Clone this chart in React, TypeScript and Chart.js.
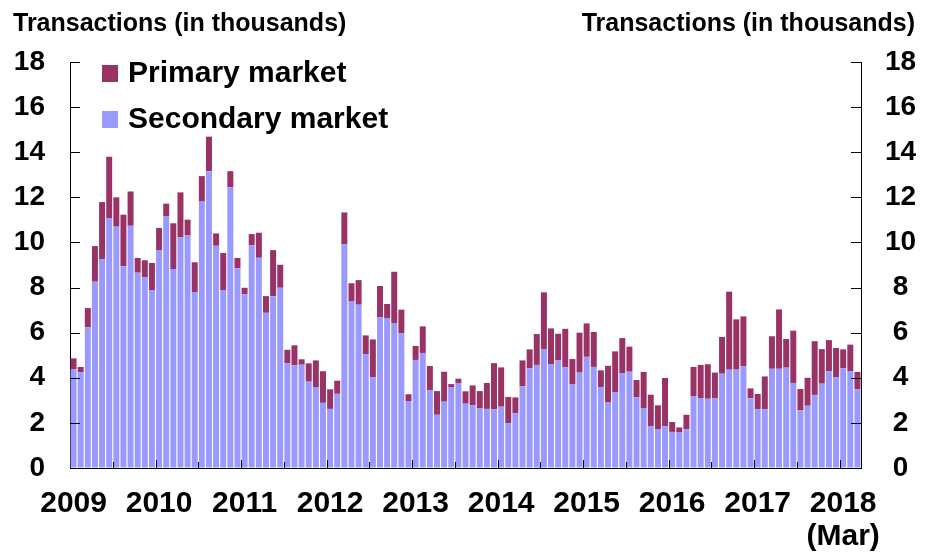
import React, { useEffect, useRef } from 'react';
import { Chart, registerables } from 'chart.js';

Chart.register(...registerables);

// Monthly categories Jan 2009 – Mar 2018
const years = ['2009', '2010', '2011', '2012', '2013', '2014', '2015', '2016', '2017', '2018'];
const monthNames = ['Jan', 'Feb', 'Mar', 'Apr', 'May', 'Jun', 'Jul', 'Aug', 'Sep', 'Oct', 'Nov', 'Dec'];
const lastYearMonths = 3;
const categories: string[] = [];
years.forEach((y, yi) => {
  const n = yi === years.length - 1 ? lastYearMonths : 12;
  for (let m = 0; m < n; m++) categories.push(`${monthNames[m]} ${y}`);
});
const lastNote = '(Mar)';

// Secondary market transactions (thousands)
const secondary = [
  4.37, 4.24, 6.24, 8.26, 9.25, 11.08, 10.70, 8.95, 10.74, 8.66, 8.45, 7.89,
  9.66, 11.17, 8.82, 10.24, 10.31, 7.80, 11.81, 13.16, 9.85, 7.89, 12.44, 8.85,
  7.70, 9.88, 9.32, 6.88, 7.62, 7.99, 4.65, 4.55, 4.58, 3.83, 3.59, 2.89,
  2.62, 3.29, 9.92, 7.40, 7.24, 5.05, 4.03, 6.68, 6.65, 6.43, 5.97, 2.97,
  4.79, 5.10, 3.44, 2.36, 2.94, 3.59, 3.77, 2.85, 2.79, 2.64, 2.62, 2.60,
  2.72, 1.99, 2.44, 3.63, 4.42, 4.57, 5.27, 4.61, 4.77, 4.46, 3.72, 4.23,
  4.93, 4.48, 3.59, 2.90, 3.35, 4.21, 4.27, 3.13, 2.66, 1.85, 1.73, 1.85,
  1.60, 1.57, 1.73, 3.19, 3.10, 3.07, 3.10, 4.18, 4.36, 4.36, 4.52, 3.09,
  2.60, 2.60, 4.40, 4.40, 4.45, 3.77, 2.56, 2.76, 3.24, 3.74, 4.29, 4.03,
  4.43, 4.30, 3.50,
];

// Primary market transactions (thousands)
const primary = [
  0.49, 0.24, 0.85, 1.58, 2.54, 2.72, 1.30, 2.28, 1.52, 0.65, 0.76, 1.20,
  0.98, 0.55, 2.03, 1.98, 0.70, 1.32, 1.13, 1.53, 0.55, 1.64, 0.72, 0.46,
  0.29, 0.49, 1.11, 0.74, 2.04, 1.02, 0.59, 0.89, 0.24, 0.81, 1.18, 1.40,
  0.87, 0.58, 1.41, 0.79, 1.09, 0.83, 1.67, 1.39, 0.62, 2.27, 1.05, 0.30,
  0.62, 1.18, 1.08, 1.05, 1.33, 0.13, 0.19, 0.55, 0.87, 0.77, 1.15, 2.05,
  1.74, 1.16, 0.69, 1.14, 0.84, 1.37, 2.52, 1.58, 1.18, 1.71, 1.11, 1.77,
  1.48, 1.55, 0.74, 1.63, 1.82, 1.55, 1.11, 0.77, 1.60, 1.40, 1.05, 2.14,
  0.44, 0.23, 0.63, 1.29, 1.47, 1.53, 1.13, 1.63, 3.46, 2.23, 2.20, 0.44,
  0.68, 1.46, 1.44, 2.63, 1.27, 2.32, 0.94, 1.24, 2.38, 1.53, 1.38, 1.29,
  0.83, 1.17, 0.76,
];

const yTicks = [0, 2, 4, 6, 8, 10, 12, 14, 16, 18];
const axisTitle = 'Transactions (in thousands)';
const seriesNames = { primary: 'Primary market', secondary: 'Secondary market' };
const COLORS = { primary: '#993366', secondary: '#9999FF' };
const FONT = "'Liberation Sans', Arial, Helvetica, sans-serif";

const overlayPlugin = {
  id: 'overlay',
  afterDatasetsDraw(chart: any) {
    const { ctx, chartArea: a, scales } = chart;
    const y = scales.y;
    const x = scales.x;
    ctx.save();
    ctx.strokeStyle = '#000';
    ctx.lineWidth = 1;
    ctx.beginPath();
    yTicks.forEach((v) => {
      const py = Math.round(y.getPixelForValue(v)) + 0.5;
      ctx.moveTo(a.left, py);
      ctx.lineTo(a.left + 10, py);
      ctx.moveTo(a.right - 10, py);
      ctx.lineTo(a.right, py);
    });
    for (let i = 6; i < categories.length; i += 6) {
      const px = Math.round((x.getPixelForValue(i - 1) + x.getPixelForValue(i)) / 2) + 0.5;
      const len = i % 12 === 0 ? 8 : 6;
      ctx.moveTo(px, a.bottom);
      ctx.lineTo(px, a.bottom - len);
    }
    ctx.stroke();
    ctx.restore();
  },
  afterDraw(chart: any) {
    const { ctx } = chart;
    ctx.save();
    ctx.fillStyle = '#000';
    ctx.font = `bold 25px ${FONT}`;
    ctx.textBaseline = 'alphabetic';
    ctx.textAlign = 'left';
    ctx.fillText(axisTitle, 13, 31);
    ctx.textAlign = 'right';
    ctx.fillText(axisTitle, 915, 31);

    // legend
    const items = [
      { label: seriesNames.primary, color: COLORS.primary, y: 65 },
      { label: seriesNames.secondary, color: COLORS.secondary, y: 111 },
    ];
    ctx.font = `bold 30px ${FONT}`;
    ctx.textAlign = 'left';
    items.forEach((it) => {
      ctx.fillStyle = it.color;
      ctx.fillRect(102, it.y, 16, 17);
      ctx.fillStyle = '#000';
      ctx.fillText(it.label, 128, it.y + 17);
    });
    ctx.restore();
  },
};

export default function App() {
  const canvasRef = useRef<HTMLCanvasElement | null>(null);

  useEffect(() => {
    if (!canvasRef.current) return;
    const tickFont = { family: FONT, size: 28, weight: 'bold' as const };
    const chart = new Chart(canvasRef.current, {
      type: 'bar',
      data: {
        labels: categories,
        datasets: [
          {
            label: seriesNames.secondary,
            data: secondary,
            backgroundColor: COLORS.secondary,
            borderWidth: 0,
            yAxisID: 'y',
          },
          {
            label: seriesNames.primary,
            data: primary,
            backgroundColor: COLORS.primary,
            borderWidth: 0,
            yAxisID: 'y',
          },
        ],
      },
      options: {
        responsive: false,
        animation: false,
        devicePixelRatio: 1,
        layout: { padding: { top: 62, left: 0, right: 0, bottom: 0 } },
        datasets: { bar: { barPercentage: 0.84, categoryPercentage: 1 } },
        plugins: {
          legend: { display: false },
          tooltip: { enabled: false },
          title: { display: false },
        },
        scales: {
          x: {
            stacked: true,
            grid: { display: true, drawOnChartArea: false, drawTicks: false },
            border: { display: true, color: '#000', width: 1 },
            ticks: {
              autoSkip: false,
              maxRotation: 0,
              minRotation: 0,
              padding: 19,
              color: '#000',
              font: { family: FONT, size: 30, weight: 'bold', lineHeight: 1.1 },
              callback: (_v: any, index: number) => {
                if (index % 12 !== 0) return '';
                const yl = years[Math.floor(index / 12)];
                return index / 12 === years.length - 1 ? [yl, lastNote] : yl;
              },
            },
            afterFit: (s: any) => {
              s.height = 86;
            },
          },
          y: {
            stacked: true,
            position: 'left',
            min: 0,
            max: 18,
            grid: { display: true, drawOnChartArea: false, drawTicks: false },
            border: { display: true, color: '#000', width: 1 },
            ticks: { stepSize: 2, padding: 25, color: '#000', font: tickFont },
            afterFit: (s: any) => {
              s.width = 70;
            },
          },
          y2: {
            position: 'right',
            min: 0,
            max: 18,
            grid: { display: true, drawOnChartArea: false, drawTicks: false },
            border: { display: true, color: '#000', width: 1 },
            ticks: { stepSize: 2, padding: 24, crossAlign: 'center', color: '#000', font: tickFont },
            afterFit: (s: any) => {
              s.width = 66;
            },
          },
        },
      } as any,
      plugins: [overlayPlugin],
    });
    return () => chart.destroy();
  }, []);

  return (
    <div style={{ position: 'absolute', left: 0, top: 0, width: 927, height: 554, background: '#fff' }}>
      <canvas ref={canvasRef} width={927} height={554} style={{ display: 'block', width: 927, height: 554 }} />
    </div>
  );
}
